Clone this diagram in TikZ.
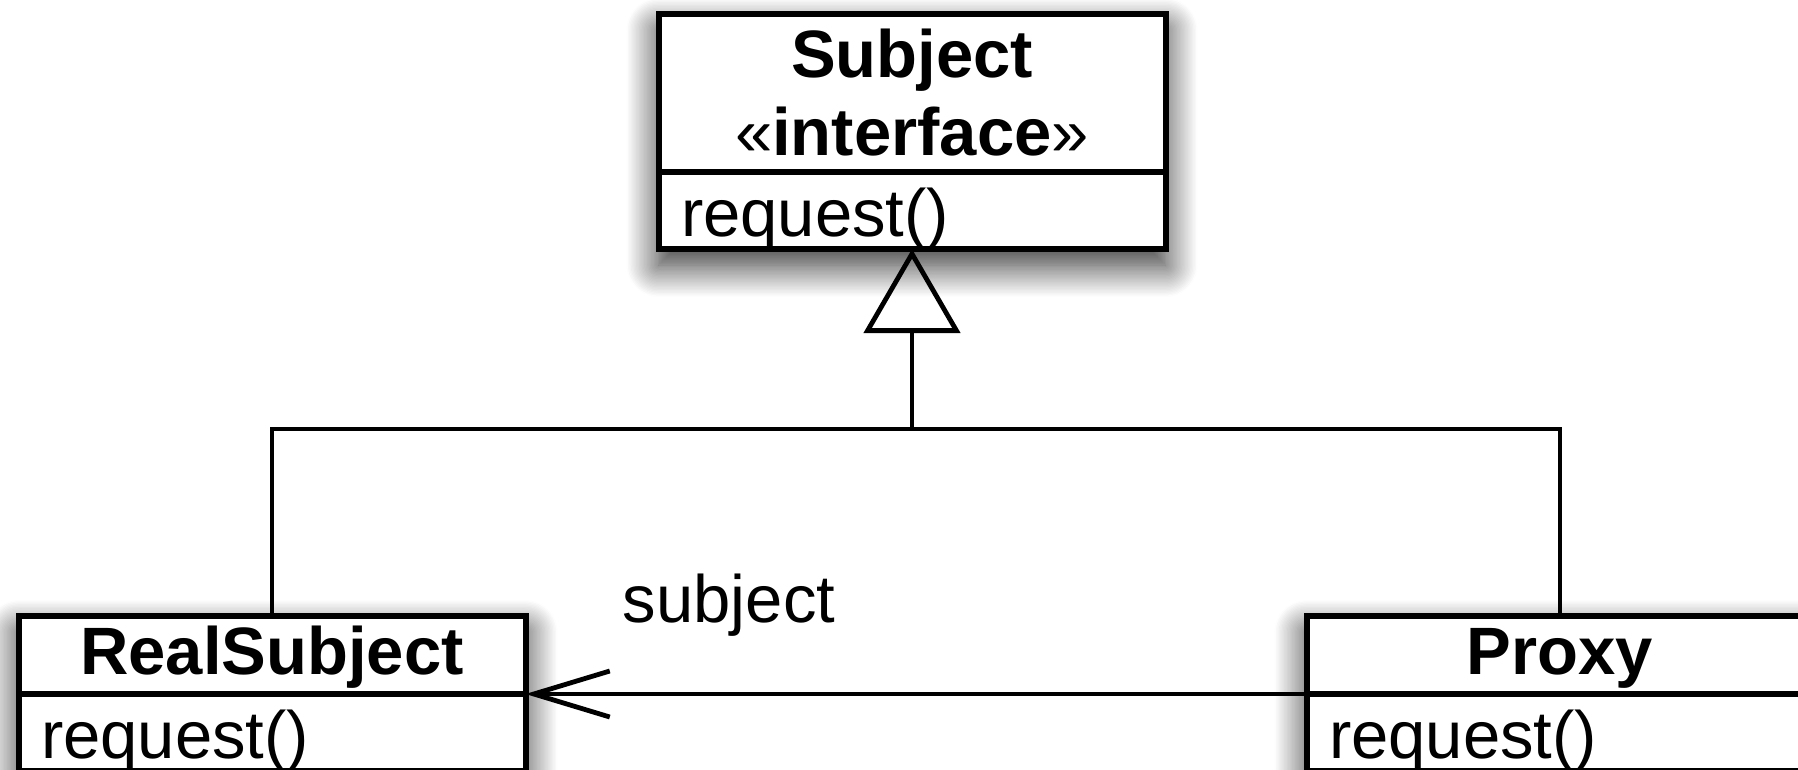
\documentclass[tikz,border=0pt]{standalone}
\usepackage{fontspec}
\setmainfont{Liberation Sans}
\usetikzlibrary{positioning,arrows.meta,shadows.blur,fit,backgrounds}

\begin{document}
\begin{tikzpicture}[line width=2.4pt, font=\fontsize{33.5pt}{39pt}\selectfont,
	head/.style = {draw, line width=3pt, fill=white, outer sep=0pt, minimum width=253.5pt, inner ysep=0pt, align=center, font=\fontsize{33.5pt}{39pt}\selectfont\bfseries},
	small/.style = {minimum height=39pt, text height=26pt, text depth=7pt},
	ops/.style = {draw, line width=3pt, fill=white, outer sep=0pt, text width=231pt, inner xsep=11.25pt, inner ysep=0pt, minimum height=38.5pt, text height=31pt, text depth=5pt, align=left},
	shade/.style = {fill=white, inner sep=0pt, blur shadow={shadow xshift=0pt, shadow yshift=-8pt, shadow blur radius=16pt, shadow blur steps=24, shadow opacity=85}}]
	\useasboundingbox (0,0) rectangle (899pt,-385pt);
	\node[head, minimum height=79pt] (subjt) at (456pt,-46.5pt) {Subject\\{\mdseries «}interface{\mdseries »}};
	\node[ops, below=0pt of subjt] (subjm) {request()};
	\coordinate[below=90pt of subjm] (hub);
	\node[head, small, below=93.5pt of hub, xshift=-320pt] (realt) {RealSubject};
	\node[ops, below=0pt of realt] (realm) {request()};
	\node[head, small, below=93.5pt of hub, xshift=324pt] (proxyt) {Proxy};
	\node[ops, below=0pt of proxyt] (proxym) {request()};
	\begin{scope}[on background layer]
		\node[shade, fit=(subjt)(subjm)] {};
		\node[shade, fit=(realt)(realm)] {};
		\node[shade, fit=(proxyt)(proxym)] {};
	\end{scope}
	\draw (realt) |- (hub) -| (proxyt);
	\draw[-{Triangle[open, length=42pt, width=48pt]}] (hub) -- (subjm);
	\draw[-{Straight Barb[length=38pt, width=23pt]}] (proxym.north west) -- (realm.north east);
	\node[inner sep=0pt, above right=27.5pt and 47.5pt of realm.north east] (role) {subject};
\end{tikzpicture}
\end{document}
